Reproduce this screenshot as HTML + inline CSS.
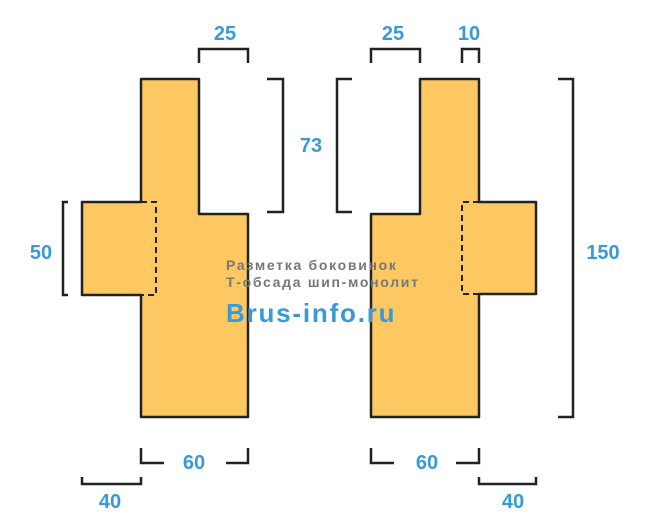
<!DOCTYPE html><html><head><meta charset="utf-8"><style>body{margin:0;background:#fff}svg{display:block}</style></head><body>
<svg width="671" height="531" viewBox="0 0 671 531" xmlns="http://www.w3.org/2000/svg" font-family="Liberation Sans, sans-serif">
<g fill="#fdc862" stroke="#222" stroke-width="2.5" stroke-linejoin="round">
<path d="M141 79 H199 V214 H248 V417 H141 V295 H82 V202 H141 Z"/>
<path d="M420 79 H479 V202 H536 V294 H479 V417 H371 V214 H420 Z"/>
</g>
<g fill="none" stroke="#222" stroke-width="2" stroke-dasharray="6 4">
<path d="M141 202 H156 V295 H141"/>
<path d="M479 202 H462 V294 H479"/>
</g>
<g fill="none" stroke="#222" stroke-width="2.5">
<path d="M199 63 V49 H248 V63"/>
<path d="M267 79 H283 V212 H267"/>
<path d="M68 202 H63 V295 H68"/>
<path d="M141 448 V463 H164 M226 463 H248 V448"/>
<path d="M82 477 V484 H141 V477"/>
<path d="M371 63 V49 H420 V63"/>
<path d="M462 63 V49 H479 V63"/>
<path d="M352 79 H337 V212 H352"/>
<path d="M558 79 H573 V417 H558"/>
<path d="M371 448 V463 H394 M456 463 H479 V448"/>
<path d="M479 477 V484 H536 V477"/>
</g>
<g fill="#3a9ad9" font-size="20" font-weight="bold" text-anchor="middle">
<text x="225" y="40">25</text><text x="311" y="152">73</text><text x="41" y="259">50</text>
<text x="194" y="469">60</text><text x="110" y="508">40</text>
<text x="393" y="40">25</text><text x="469" y="40">10</text><text x="603" y="259">150</text>
<text x="427" y="469">60</text><text x="513" y="508">40</text>
</g>
<g fill="#777" font-size="14" font-weight="bold" letter-spacing="1.7">
<text x="226" y="270">Разметка боковинок</text>
<text x="226" y="287">Т-обсада шип-монолит</text>
</g>
<text x="226" y="322" fill="#3a9ad9" font-size="26" font-weight="bold" letter-spacing="1.8">Brus-info.ru</text>
</svg></body></html>
